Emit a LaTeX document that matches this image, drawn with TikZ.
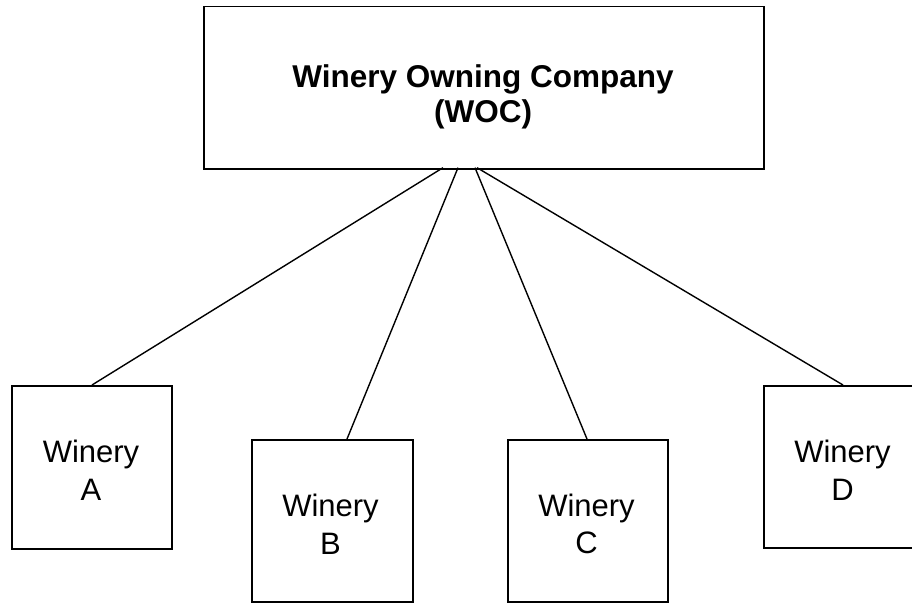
\documentclass[tikz,border=0pt]{standalone}
\usepackage{fontspec}
\setmainfont{Liberation Sans}
\begin{document}
\begin{tikzpicture}[x=1pt,y=-1pt,
  box/.style={draw=black, line width=1.8pt, fill=white, inner sep=0pt, anchor=north west},
  lbl/.style={inner sep=0pt, align=center, font=\fontsize{31}{37.7}\selectfont},
  title/.style={inner sep=0pt, align=center, font=\fontsize{31.5}{34.7}\selectfont\bfseries},
  conn/.style={draw=black, line width=1.4pt}]
\useasboundingbox (0,0) rectangle (912,602);
\fill[white] (0,0) rectangle (912,602);
% boxes
\node[box, minimum width=560pt, minimum height=162pt] (WOC) at (203,5.7) {};
\node[box, minimum width=160pt, minimum height=163pt] (A) at (11,385) {};
\node[box, minimum width=161pt, minimum height=162pt] (B) at (251,439) {};
\node[box, minimum width=160pt, minimum height=162pt] (C) at (507,439) {};
\node[box, minimum width=152pt, minimum height=162pt] (D) at (763,385) {};
% texts
\node[title] (WOCt) at (483,96.6) {Winery Owning Company\\(WOC)};
\node[lbl] (At) at (91,470) {Winery\\A};
\node[lbl] (Bt) at (330.5,524) {Winery\\B};
\node[lbl] (Ct) at (586.5,524) {Winery\\C};
\node[lbl] (Dt) at (842.5,470) {Winery\\D};
% connector ends
\coordinate (wa) at (443,167.7);
\coordinate (wb) at (458,167.7);
\coordinate (wc) at (475,167.7);
\coordinate (wd) at (477,167.7);
\coordinate (ta) at (92,385);
\coordinate (tb) at (347,439);
\coordinate (tc) at (587,439);
\coordinate (td) at (843,385);
\draw[conn] (wa) -- (ta);
\draw[conn] (wb) -- (tb);
\draw[conn] (wc) -- (tc);
\draw[conn] (wd) -- (td);
\end{tikzpicture}
\end{document}
